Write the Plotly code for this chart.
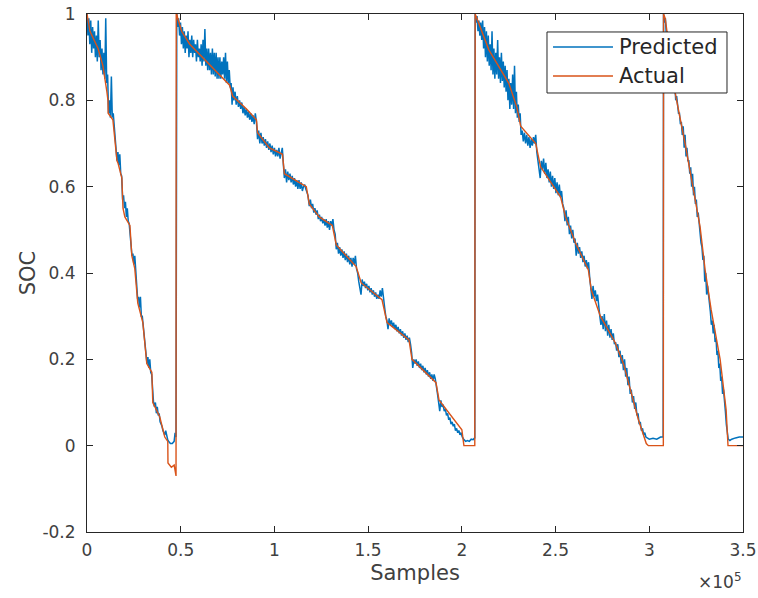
import plotly.graph_objects as go

# ---------------- data ----------------
# Actual SOC: breakpoints (samples, SOC)
actual_x = [0, 1600, 5900, 8500, 10600, 11200, 11300, 13800, 16000, 16500, 18600, 19200, 20200, 22900,
            23900, 25500, 27100, 29800, 31900, 34600, 35100, 38800, 41500, 43100, 43200, 45000, 46500,
            47500, 47600,
            47900, 48400, 50500, 54800, 63800, 70700, 76100, 77700, 85100, 90400, 91000, 97300, 104300,
            105300, 117000, 118600, 123900, 130900, 133000, 143600, 146300, 157400, 160100, 171800,
            173400, 186200, 187800, 200000, 201100, 206900, 207100,
            208000, 214400, 225000, 229300, 231400, 239400, 242000, 252700, 255300, 260600, 267500,
            269100, 273900, 281900, 286200, 289900, 294200, 298400, 299500, 307500, 307600,
            308500, 313800, 319100, 323400, 327100, 329800, 333000, 337800, 341000, 342000, 350000]
actual_y = [1.0, 0.96, 0.92, 0.88, 0.82, 0.80, 0.77, 0.755, 0.66, 0.655, 0.62, 0.55, 0.53, 0.51,
            0.44, 0.41, 0.33, 0.285, 0.19, 0.17, 0.10, 0.067, 0.02, 0.01, -0.04, -0.05, -0.045,
            -0.07, 1.0,
            1.0, 0.99, 0.96, 0.93, 0.89, 0.86, 0.835, 0.81, 0.78, 0.755, 0.725, 0.69, 0.675,
            0.63, 0.60, 0.56, 0.53, 0.51, 0.465, 0.415, 0.377, 0.338, 0.285, 0.245,
            0.20, 0.146, 0.106, 0.037, 0.0, 0.0, 1.0,
            0.99, 0.917, 0.84, 0.785, 0.74, 0.70, 0.646, 0.576, 0.53, 0.47, 0.407,
            0.36, 0.30, 0.238, 0.19, 0.13, 0.06, 0.005, 0.0, 0.0, 1.0,
            0.99, 0.817, 0.70, 0.60, 0.507, 0.407, 0.315, 0.20, 0.083, 0.0, 0.0]

# Predicted SOC (samples, SOC), cycle by cycle
pred1_x = [0, 500, 1000, 1500, 2000, 2500, 3000, 3500, 4000, 4500, 5000, 5500, 6000, 6500, 7000, 7500,
           8000, 8500, 9000, 9500, 10000, 10500, 11000, 11500, 12000, 12500, 13000, 13500, 14000, 14500,
           15000, 15500, 16000, 16500, 17000, 17500, 18000, 18500, 19000, 19500, 20000, 20500, 21000,
           21500, 22000, 22500, 23000, 23500, 24000, 24500, 25000, 25500, 26000, 26500, 27000, 27500,
           28000, 28500, 29000, 29500, 30000, 30500, 31000, 31500, 32000, 32500, 33000, 33500, 34000,
           34500, 35000, 35500, 36000, 36500, 37000, 37500, 38000, 38500, 39000, 39500, 40000, 40500,
           41000, 41500, 42000, 42500, 43000, 43500, 44500, 45500, 46500, 47000, 47500]
pred1_y = [1.0, 0.95, 0.99, 0.93, 0.985, 0.91, 0.97, 0.92, 0.96, 0.90, 0.95, 0.89, 0.985, 0.90, 0.94, 0.87,
           0.92, 0.86, 0.91, 0.85, 0.99, 0.84, 0.86, 0.77, 0.80, 0.76, 0.855, 0.76, 0.77, 0.74,
           0.72, 0.69, 0.66, 0.68, 0.65, 0.675, 0.63, 0.625, 0.57, 0.58, 0.55, 0.565, 0.53,
           0.55, 0.52, 0.515, 0.49, 0.45, 0.44, 0.445, 0.42, 0.44, 0.41, 0.38, 0.34, 0.345,
           0.32, 0.345, 0.30, 0.30, 0.28, 0.26, 0.24, 0.21, 0.19, 0.205, 0.18, 0.20, 0.17,
           0.165, 0.12, 0.10, 0.09, 0.10, 0.075, 0.09, 0.07, 0.075, 0.055, 0.05, 0.045, 0.035,
           0.03, 0.025, 0.035, 0.02, 0.015, 0.01, 0.005, 0.005, 0.01, 0.03, 0.02]

pred2_x = [47900, 48400, 48900, 49400, 49900, 50400, 50900, 51400, 51900, 52400, 52900, 53400, 53900,
           54400, 54900, 55400, 55900, 56400, 56900, 57400, 57900, 58400, 58900, 59400, 59900, 60400,
           60900, 61400, 61900, 62400, 62900, 63400, 63900, 64400, 64900, 65400, 65900, 66400, 66900,
           67400, 67900, 68400, 68900, 69400, 69900, 70400, 70900, 71400, 71900, 72400, 72900, 73400,
           73900, 74400, 74900, 75400, 75900, 76400, 76900, 77400, 77900, 78400, 79000, 79600, 80200,
           80800, 81400, 82000, 82600, 83200, 83800, 84400, 85000, 85600, 86200, 86800, 87400, 88000,
           88600, 89200, 89800, 90400, 91000, 91600, 92200, 92800, 93400, 94000, 94600, 95200, 95800,
           96400, 97000, 97600, 98200, 98800, 99400, 100000, 100600, 101200, 101800, 102400, 103000,
           103600, 104200, 104800, 105300, 105900, 106500, 107100, 107700, 108300, 108900, 109500,
           110100, 110700, 111300, 111900, 112500, 113100, 113700, 114300, 114900, 115500, 116100,
           116700, 117300, 117900, 118600, 119200, 119800, 120400, 121000, 121600, 122200, 122800,
           123400, 124000, 124600, 125200, 125800, 126400, 127000, 127600, 128200, 128800, 129400,
           130000, 130600, 131200, 131800, 132400, 133000, 133600, 134200, 134800, 135400, 136000,
           136600, 137200, 137800, 138400, 139000, 139600, 140200, 140800, 141400, 142000, 142600,
           143200, 143800, 144400, 145000, 145600, 146200, 146800, 147400, 148000, 148600, 149200,
           149800, 150400, 151000, 151600, 152200, 152800, 153400, 154000, 154600, 155200, 155800,
           156400, 157000, 157600, 158200, 158800, 159400, 160000, 160600, 161200, 161800, 162400,
           163000, 163600, 164200, 164800, 165400, 166000, 166600, 167200, 167800, 168400, 169000,
           169600, 170200, 170800, 171400, 172000, 172600, 173200, 173800, 174400, 175000, 175600,
           176200, 176800, 177400, 178000, 178600, 179200, 179800, 180400, 181000, 181600, 182200,
           182800, 183400, 184000, 184600, 185200, 185800, 186400, 187000, 187600, 188200, 188800,
           189400, 190000, 190600, 191200, 191800, 192400, 193000, 193600, 194200, 194800, 195400,
           196000, 196600, 197200, 197800, 198400, 199000, 199600, 200200, 201000, 202000, 203000,
           204000, 205000, 206000, 206900]
pred2_y = [1.0, 0.97, 0.99, 0.95, 0.98, 0.93, 0.97, 0.92, 0.96, 0.91, 0.95, 0.92, 0.96,
           0.90, 0.94, 0.91, 0.95, 0.90, 0.94, 0.91, 0.93, 0.89, 0.94, 0.90, 0.92, 0.89,
           0.93, 0.88, 0.94, 0.89, 0.965, 0.88, 0.92, 0.87, 0.92, 0.87, 0.91, 0.86, 0.92,
           0.86, 0.91, 0.855, 0.91, 0.85, 0.90, 0.85, 0.90, 0.85, 0.89, 0.86, 0.90, 0.85,
           0.91, 0.84, 0.89, 0.84, 0.87, 0.83, 0.84, 0.79, 0.83, 0.80, 0.82, 0.79, 0.81,
           0.785, 0.80, 0.78, 0.795, 0.77, 0.785, 0.765, 0.78, 0.76, 0.775, 0.755, 0.77, 0.75,
           0.765, 0.745, 0.77, 0.75, 0.71, 0.73, 0.70, 0.725, 0.70, 0.715, 0.695, 0.71, 0.69,
           0.705, 0.685, 0.70, 0.68, 0.695, 0.675, 0.69, 0.67, 0.685, 0.67, 0.69, 0.665,
           0.68, 0.69, 0.65, 0.62, 0.64, 0.61, 0.635, 0.615, 0.63, 0.61, 0.625,
           0.605, 0.62, 0.60, 0.615, 0.595, 0.615, 0.595, 0.61, 0.59, 0.60, 0.605,
           0.595, 0.585, 0.58, 0.555, 0.57, 0.55, 0.56, 0.54, 0.55, 0.535, 0.545,
           0.525, 0.535, 0.52, 0.53, 0.515, 0.525, 0.51, 0.525, 0.505, 0.52, 0.50,
           0.52, 0.51, 0.525, 0.50, 0.49, 0.455, 0.47, 0.445, 0.46, 0.44, 0.455,
           0.435, 0.45, 0.43, 0.445, 0.425, 0.44, 0.42, 0.435, 0.415, 0.435, 0.42,
           0.44, 0.41, 0.40, 0.38, 0.365, 0.35, 0.385, 0.37, 0.38, 0.365, 0.375,
           0.36, 0.37, 0.355, 0.365, 0.35, 0.36, 0.345, 0.355, 0.34, 0.35, 0.34,
           0.36, 0.345, 0.365, 0.335, 0.32, 0.30, 0.29, 0.27, 0.295, 0.28, 0.29,
           0.275, 0.285, 0.27, 0.28, 0.265, 0.275, 0.26, 0.27, 0.255, 0.265, 0.25,
           0.26, 0.245, 0.255, 0.24, 0.25, 0.235, 0.215, 0.18, 0.20, 0.19, 0.20,
           0.185, 0.195, 0.18, 0.19, 0.175, 0.185, 0.17, 0.18, 0.165, 0.175, 0.16,
           0.17, 0.155, 0.165, 0.15, 0.165, 0.155, 0.14, 0.12, 0.10, 0.08, 0.105,
           0.09, 0.095, 0.08, 0.085, 0.07, 0.075, 0.06, 0.065, 0.05, 0.055, 0.045,
           0.05, 0.035, 0.04, 0.03, 0.035, 0.025, 0.03, 0.02, 0.015, 0.01, 0.012,
           0.01, 0.015, 0.014, 0.018]

pred3_x = [207100, 207600, 208100, 208600, 209100, 209600, 210100, 210600, 211100, 211600, 212100,
           212600, 213100, 213600, 214100, 214600, 215100, 215600, 216100, 216600, 217100, 217600,
           218100, 218600, 219100, 219600, 220100, 220600, 221100, 221600, 222100, 222600, 223100,
           223600, 224100, 224600, 225100, 225600, 226100, 226600, 227100, 227600, 228100, 228600,
           229100, 229600, 230100, 230600, 231100, 231600, 232200, 232800, 233400, 234000, 234600,
           235200, 235800, 236400, 237000, 237600, 238200, 238800, 239400, 240000, 240600, 241200,
           241800, 242400, 243000, 243600, 244200, 244800, 245400, 246000, 246600, 247200, 247800,
           248400, 249000, 249600, 250200, 250800, 251400, 252000, 252600, 253200, 253800, 254400,
           255000, 255600, 256200, 256800, 257400, 258000, 258600, 259200, 259800, 260400, 261000,
           261600, 262200, 262800, 263400, 264000, 264600, 265200, 265800, 266400, 267000, 267600,
           268200, 268800, 269400, 270000, 270600, 271200, 271800, 272400, 273000, 273600, 274200,
           274800, 275400, 276000, 276600, 277200, 277800, 278400, 279000, 279600, 280200, 280800,
           281400, 282000, 282600, 283200, 283800, 284400, 285000, 285600, 286200, 286800, 287400,
           288000, 288600, 289200, 289800, 290400, 291000, 291600, 292200, 292800, 293400, 294000,
           294600, 295200, 295800, 296400, 297000, 297600, 298200, 299000, 300000, 302000, 304000,
           306000, 307400]
pred3_y = [1.0, 0.98, 0.995, 0.96, 0.985, 0.95, 0.98, 0.94, 0.985, 0.92, 0.97,
           0.90, 0.96, 0.89, 0.95, 0.88, 0.93, 0.87, 0.96, 0.86, 0.92, 0.85,
           0.91, 0.86, 0.94, 0.85, 0.90, 0.84, 0.91, 0.845, 0.89, 0.83, 0.88,
           0.82, 0.87, 0.80, 0.85, 0.78, 0.84, 0.79, 0.86, 0.78, 0.88, 0.77,
           0.82, 0.76, 0.79, 0.75, 0.77, 0.72, 0.73, 0.705, 0.725, 0.70, 0.72,
           0.695, 0.715, 0.69, 0.71, 0.695, 0.715, 0.70, 0.72, 0.68, 0.665, 0.64,
           0.62, 0.66, 0.64, 0.665, 0.63, 0.655, 0.62, 0.64, 0.61, 0.635, 0.60,
           0.625, 0.595, 0.62, 0.585, 0.61, 0.58, 0.605, 0.575, 0.59, 0.56, 0.55,
           0.52, 0.545, 0.51, 0.53, 0.49, 0.51, 0.48, 0.50, 0.47, 0.48, 0.44,
           0.47, 0.445, 0.46, 0.435, 0.45, 0.425, 0.44, 0.415, 0.43, 0.41, 0.425,
           0.39, 0.36, 0.34, 0.37, 0.345, 0.36, 0.335, 0.35, 0.32, 0.30, 0.28,
           0.30, 0.27, 0.305, 0.265, 0.29, 0.255, 0.28, 0.25, 0.27, 0.245, 0.26,
           0.235, 0.24, 0.22, 0.235, 0.205, 0.22, 0.19, 0.21, 0.175, 0.20, 0.16,
           0.18, 0.14, 0.16, 0.12, 0.13, 0.10, 0.115, 0.085, 0.10, 0.07, 0.075,
           0.05, 0.055, 0.035, 0.04, 0.025, 0.03, 0.02, 0.018, 0.015, 0.017, 0.015,
           0.02, 0.02]

pred4_x = [307600, 308100, 308600, 309100, 309600, 310100, 310600, 311100, 311600, 312100, 312600,
           313100, 313600, 314100, 314600, 315100, 315600, 316100, 316600, 317100, 317600, 318100,
           318600, 319100, 319600, 320100, 320600, 321100, 321600, 322100, 322600, 323100, 323600,
           324100, 324600, 325100, 325600, 326100, 326600, 327100, 327600, 328100, 328600, 329100,
           329600, 330100, 330600, 331100, 331600, 332100, 332600, 333100, 333600, 334100, 334600,
           335100, 335600, 336100, 336600, 337100, 337600, 338100, 338600, 339100, 339600, 340100,
           340600, 341100, 341600, 342100, 343000, 344000, 346000, 348000, 350000]
pred4_y = [1.0, 0.98, 0.99, 0.95, 0.96, 0.92, 0.93, 0.89, 0.90, 0.86, 0.87,
           0.83, 0.84, 0.80, 0.81, 0.79, 0.77, 0.77, 0.745, 0.75, 0.72, 0.74,
           0.69, 0.72, 0.67, 0.69, 0.66, 0.66, 0.63, 0.645, 0.60, 0.63, 0.58,
           0.60, 0.56, 0.57, 0.53, 0.54, 0.51, 0.50, 0.47, 0.46, 0.43, 0.44,
           0.38, 0.40, 0.35, 0.37, 0.34, 0.33, 0.31, 0.28, 0.29, 0.26, 0.28,
           0.24, 0.25, 0.21, 0.22, 0.18, 0.19, 0.15, 0.16, 0.12, 0.13, 0.09,
           0.08, 0.05, 0.03, 0.015, 0.012, 0.015, 0.018, 0.02, 0.02]

predicted_x = pred1_x + pred2_x + pred3_x + pred4_x
predicted_y = pred1_y + pred2_y + pred3_y + pred4_y

x_tickvals = [0, 50000, 100000, 150000, 200000, 250000, 300000, 350000]
x_ticktext = ["0", "0.5", "1", "1.5", "2", "2.5", "3", "3.5"]
y_tickvals = [-0.2, 0, 0.2, 0.4, 0.6, 0.8, 1]
y_ticktext = ["-0.2", "0", "0.2", "0.4", "0.6", "0.8", "1"]
series_names = ["Predicted", "Actual"]

# ---------------- figure ----------------
BLUE = "#0072BD"
ORANGE = "#D95319"
AXC = "#262626"
TXT = "#404040"
FONT = "DejaVu Sans"

fig = go.Figure()
fig.add_trace(go.Scatter(x=predicted_x, y=predicted_y, mode="lines", name=series_names[0],
                         line=dict(color=BLUE, width=1.5), showlegend=False))
fig.add_trace(go.Scatter(x=actual_x, y=actual_y, mode="lines", name=series_names[1],
                         line=dict(color=ORANGE, width=1.4), showlegend=False))

axis_common = dict(showgrid=False, zeroline=False, showline=True, linecolor=AXC, linewidth=1,
                   mirror="ticks", ticks="inside", ticklen=6, tickcolor=AXC, tickwidth=1,
                   automargin=False, ticklabeloverflow="allow",
                   tickfont=dict(family=FONT, size=17, color=TXT))

fig.update_xaxes(range=[0, 350000], tickvals=x_tickvals, ticktext=x_ticktext,
                 title=dict(text="Samples", font=dict(family=FONT, size=21, color=TXT), standoff=5),
                 ticklabelstandoff=3, **axis_common)
fig.update_yaxes(range=[-0.2, 1], tickvals=y_tickvals, ticktext=y_ticktext,
                 title=dict(text="SOC", font=dict(family=FONT, size=21, color=TXT), standoff=1),
                 ticklabelstandoff=7, **axis_common)

fig.add_annotation(text="×10<sup>5</sup>", xref="paper", yref="paper", x=1.0, y=-0.07,
                   xanchor="right", yanchor="top", showarrow=False,
                   font=dict(family=FONT, size=17, color=TXT))

# legend box (MATLAB style, line samples 60 px long)
fig.add_shape(type="rect", xref="paper", yref="paper", x0=0.7012, x1=0.9756, y0=0.8475, y1=0.9653,
              line=dict(color=AXC, width=1), fillcolor="white", layer="above")
legend_rows = [(series_names[0], BLUE, 0.9363), (series_names[1], ORANGE, 0.8803)]
for name, color, ly in legend_rows:
    fig.add_shape(type="line", xref="paper", yref="paper", x0=0.7104, x1=0.8018, y0=ly, y1=ly,
                  line=dict(color=color, width=1.4), layer="above")
    fig.add_annotation(text=name, xref="paper", yref="paper", x=0.8085, y=ly,
                       xanchor="left", yanchor="middle", showarrow=False,
                       font=dict(family=FONT, size=21, color="#262626"))

fig.update_layout(
    width=758, height=598,
    margin=dict(l=87, r=15, t=14, b=66, autoexpand=False),
    paper_bgcolor="white", plot_bgcolor="white",
)

# remove the default 8 px page margin so the figure fills the window exactly; hide the modebar
fig.write_html("out.html", post_script="document.body.style.margin='0';",
               config={"displayModeBar": False})
